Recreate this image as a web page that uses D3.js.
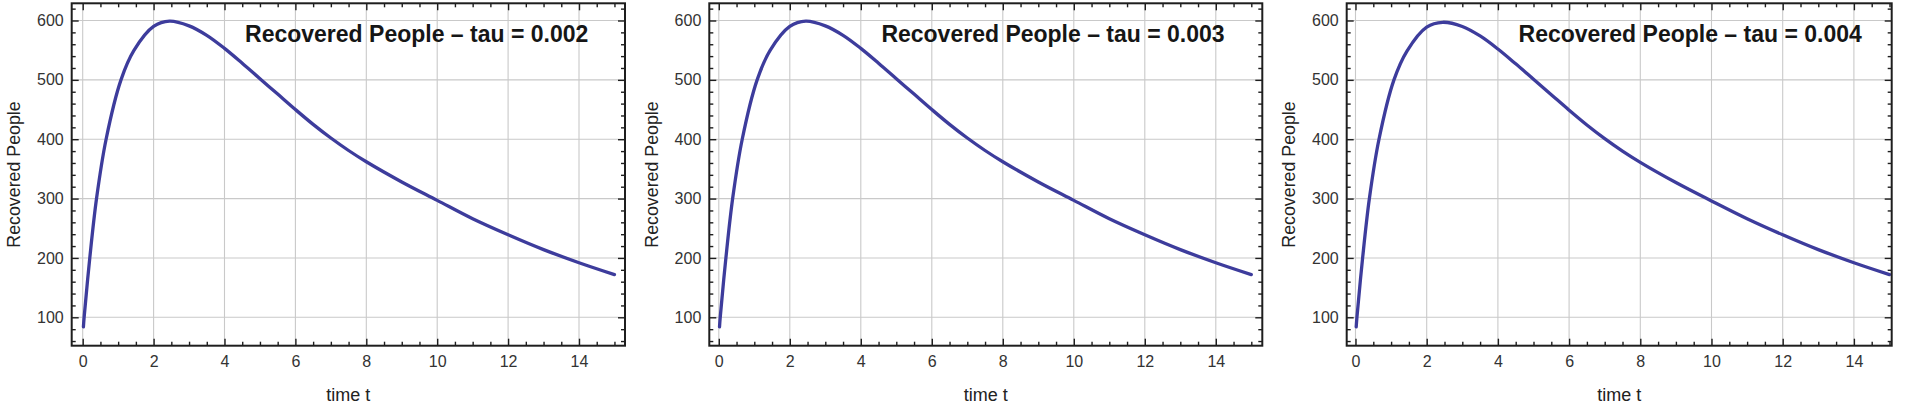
<!DOCTYPE html>
<html>
<head>
<meta charset="utf-8">
<script src="https://cdn.jsdelivr.net/npm/d3@7"></script>
<style>
  html, body { margin: 0; padding: 0; background: #ffffff; }
  svg { display: block; }
  text { font-family: "Liberation Sans", Arial, sans-serif; }
</style>
</head>
<body>
<svg id="chart" width="1905" height="407"></svg>
<script>
// ---- data ----
const panelTitles = [
  "Recovered People \u2013 tau = 0.002",
  "Recovered People \u2013 tau = 0.003",
  "Recovered People \u2013 tau = 0.004"
];
const timeValues = [0.02, 0.04, 0.2, 0.39, 0.66, 1.08, 1.45, 2.0, 2.45, 3.0, 3.5, 4.0, 4.5, 5.0, 5.5, 6.0, 6.5, 7.0, 7.5, 8.0, 9.0, 10.0, 11.0, 12.0, 13.0, 14.0, 15.0];
const recoveredTau002 = [84, 100, 200, 300, 400, 500, 550, 590, 599, 591, 575, 553, 528, 502, 476, 450, 425, 402, 381, 362, 328, 297, 266, 239, 214, 192, 172];
const recoveredTau003 = [84, 100, 200, 300, 400, 500, 550, 590, 599, 591, 575, 553, 528, 502, 476, 450, 425, 402, 381, 362, 328, 297, 266, 239, 214, 192, 172];
const recoveredTau004 = [84, 100, 200, 300, 400, 500, 549, 589, 597, 590, 574, 552, 527, 501, 475, 449, 424, 401, 380, 361, 327, 296, 266, 239, 214, 192, 172];
const seriesList = [recoveredTau002, recoveredTau003, recoveredTau004];
const xMajorTicks = [0, 2, 4, 6, 8, 10, 12, 14];
const yMajorTicks = [100, 200, 300, 400, 500, 600];
const xLabel = "time t";
const yLabel = "Recovered People";

// ---- layout ----
const panels = [
  { left: 71.7,   right: 625.0,  x0: 82.7,   unit: 35.45 },
  { left: 709.3,  right: 1262.3, x0: 718.8,  unit: 35.5 },
  { left: 1346.7, right: 1891.7, x0: 1355.5, unit: 35.6 }
];
const frameTop = 3.3, frameBottom = 345.7;
const y = d3.scaleLinear().domain([100, 600]).range([317.3, 20.5]);
const yMinorTicks = d3.range(60, 621, 20).filter(v => v % 100 !== 0);
const xMinorTicks = d3.range(0, 15.01, 0.5).filter(v => v % 2 !== 0);
const lineColor = "#3d3c9c";
const gridColor = "#c9c9c9";
const frameColor = "#1e1e1e";

const svg = d3.select("#chart");

panels.forEach((p, i) => {
  const x = d3.scaleLinear().domain([0, 15]).range([p.x0, p.x0 + 15 * p.unit]);
  const g = svg.append("g");

  // grid
  g.append("g").selectAll("line").data(xMajorTicks).join("line")
    .attr("x1", d => x(d)).attr("x2", d => x(d))
    .attr("y1", frameTop).attr("y2", frameBottom)
    .attr("stroke", gridColor).attr("stroke-width", 1.1);
  g.append("g").selectAll("line").data(yMajorTicks).join("line")
    .attr("x1", p.left).attr("x2", p.right)
    .attr("y1", d => y(d)).attr("y2", d => y(d))
    .attr("stroke", gridColor).attr("stroke-width", 1.1);

  // curve
  const data = timeValues.map((t, k) => [t, seriesList[i][k]]);
  g.append("path").datum(data)
    .attr("fill", "none")
    .attr("stroke", lineColor)
    .attr("stroke-width", 3.3)
    .attr("stroke-linecap", "round")
    .attr("stroke-linejoin", "round")
    .attr("d", d3.line().x(d => x(d[0])).y(d => y(d[1])).curve(d3.curveCatmullRom.alpha(0.5)));

  // axes (ticks inward)
  const styleAxis = sel => {
    sel.select(".domain").remove();
    sel.selectAll(".tick line").attr("stroke", frameColor).attr("stroke-width", 1.4);
    sel.selectAll(".tick text").attr("fill", "#333").style("font-size", "16px")
      .style("font-family", "'Liberation Sans', Arial, sans-serif");
  };
  // bottom
  g.append("g").attr("transform", `translate(0,${frameBottom})`)
    .call(d3.axisBottom(x).tickValues(xMajorTicks).tickSize(-7).tickPadding(10).tickFormat(d3.format("d")))
    .call(styleAxis);
  g.append("g").attr("transform", `translate(0,${frameBottom})`)
    .call(d3.axisBottom(x).tickValues(xMinorTicks).tickSize(-4).tickFormat(""))
    .call(styleAxis);
  // top
  g.append("g").attr("transform", `translate(0,${frameTop})`)
    .call(d3.axisTop(x).tickValues(xMajorTicks).tickSize(-7).tickFormat(""))
    .call(styleAxis);
  g.append("g").attr("transform", `translate(0,${frameTop})`)
    .call(d3.axisTop(x).tickValues(xMinorTicks).tickSize(-4).tickFormat(""))
    .call(styleAxis);
  // left
  g.append("g").attr("transform", `translate(${p.left},0)`)
    .call(d3.axisLeft(y).tickValues(yMajorTicks).tickSize(-7).tickPadding(8).tickFormat(d3.format("d")))
    .call(styleAxis);
  g.append("g").attr("transform", `translate(${p.left},0)`)
    .call(d3.axisLeft(y).tickValues(yMinorTicks).tickSize(-4).tickFormat(""))
    .call(styleAxis);
  // right
  g.append("g").attr("transform", `translate(${p.right},0)`)
    .call(d3.axisRight(y).tickValues(yMajorTicks).tickSize(-7).tickFormat(""))
    .call(styleAxis);
  g.append("g").attr("transform", `translate(${p.right},0)`)
    .call(d3.axisRight(y).tickValues(yMinorTicks).tickSize(-4).tickFormat(""))
    .call(styleAxis);

  // frame
  g.append("rect")
    .attr("x", p.left).attr("y", frameTop)
    .attr("width", p.right - p.left).attr("height", frameBottom - frameTop)
    .attr("fill", "none").attr("stroke", frameColor).attr("stroke-width", 2);

  // title
  g.append("text")
    .attr("x", x(4.58)).attr("y", y(563))
    .attr("text-anchor", "start")
    .attr("fill", "#161616")
    .style("font-size", "23px").style("font-weight", "bold")
    .text(panelTitles[i]);

  // axis labels
  g.append("text")
    .attr("x", (p.left + p.right) / 2).attr("y", 400.5)
    .attr("text-anchor", "middle").attr("fill", "#222")
    .style("font-size", "18px")
    .text(xLabel);
  g.append("text")
    .attr("transform", `translate(${p.left - 58},${(frameTop + frameBottom) / 2}) rotate(-90)`)
    .attr("text-anchor", "middle").attr("dy", "0.35em").attr("fill", "#222")
    .style("font-size", "17.8px")
    .text(yLabel);
});
</script>
</body>
</html>
